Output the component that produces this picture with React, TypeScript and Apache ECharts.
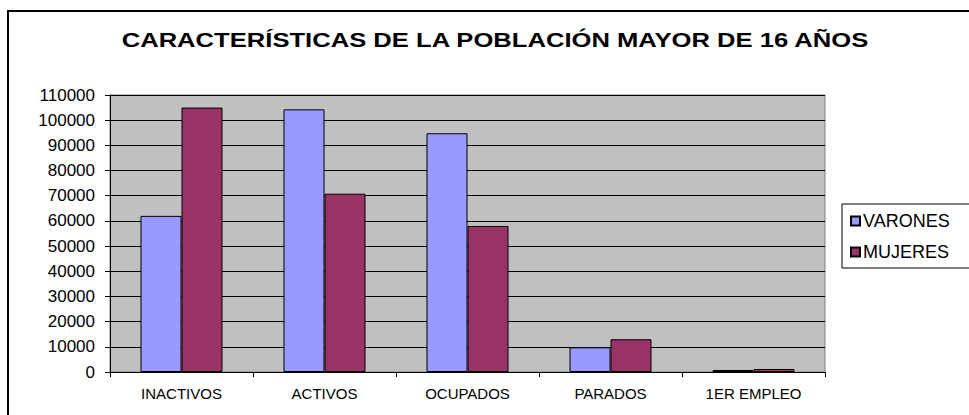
import React, { useEffect, useRef } from "react";
import * as echarts from "echarts";

const titleText = "CARACTERÍSTICAS DE LA POBLACIÓN MAYOR DE 16 AÑOS";
const categories = ["INACTIVOS", "ACTIVOS", "OCUPADOS", "PARADOS", "1ER EMPLEO"];
const seriesNames = ["VARONES", "MUJERES"];
const varones = [62000, 104300, 94800, 9800, 800];
const mujeres = [105000, 70800, 58000, 13000, 1200];
const yMin = 0;
const yMax = 110000;
const yInterval = 10000;

export default function App() {
  const ref = useRef<HTMLDivElement>(null);

  useEffect(() => {
    document.body.style.margin = "0";
    if (!ref.current) return;
    const chart = echarts.init(ref.current, undefined, { renderer: "svg" });
    const font = "'Liberation Sans', Arial, sans-serif";
    chart.setOption({
      animation: false,
      backgroundColor: "#ffffff",
      textStyle: { fontFamily: font, color: "#000" },
      graphic: [
        {
          type: "rect",
          shape: { x: 8, y: 11, width: 1000, height: 1000 },
          style: { fill: "none", stroke: "#000", lineWidth: 2 },
          silent: true,
          z: 100,
        },
        {
          type: "text",
          x: 495,
          y: 40,
          scaleX: 1.28,
          style: {
            text: titleText,
            fontFamily: font,
            fontWeight: "bold",
            fontSize: 20,
            fill: "#000",
            align: "center",
            verticalAlign: "middle",
          },
        },
      ],
      legend: {
        orient: "vertical",
        left: 842,
        top: 204,
        padding: [8, 60, 7, 8],
        itemGap: 13,
        itemWidth: 9,
        itemHeight: 9,
        borderColor: "#000",
        borderWidth: 1,
        icon: "rect",
        textStyle: { fontFamily: font, fontSize: 18, color: "#000", padding: [0, 0, 0, -2] },
        data: seriesNames,
      },
      grid: {
        left: 110,
        top: 95,
        width: 715,
        height: 277,
        show: true,
        backgroundColor: "#C0C0C0",
        borderColor: "#808080",
        borderWidth: 1,
      },
      xAxis: {
        type: "category",
        data: categories,
        axisLine: { lineStyle: { color: "#000", width: 1 } },
        axisTick: { show: true, length: 5, lineStyle: { color: "#000" } },
        axisLabel: { fontFamily: font, fontSize: 15, color: "#000", margin: 14 },
      },
      yAxis: {
        type: "value",
        min: yMin,
        max: yMax,
        interval: yInterval,
        axisLine: { show: true, lineStyle: { color: "#000", width: 1 } },
        axisTick: { show: true, length: 5, lineStyle: { color: "#000" } },
        axisLabel: {
          fontFamily: font,
          fontSize: 17,
          color: "#000",
          margin: 15,
          formatter: (v: number) => String(v),
        },
        splitLine: { show: true, lineStyle: { color: "#000", width: 1 } },
      },
      series: [
        {
          name: seriesNames[0],
          type: "bar",
          data: varones,
          barWidth: 41,
          barGap: "0%",
          itemStyle: { color: "#9999FF", borderColor: "#000", borderWidth: 1 },
        },
        {
          name: seriesNames[1],
          type: "bar",
          data: mujeres,
          barWidth: 41,
          barGap: "0%",
          itemStyle: { color: "#993366", borderColor: "#000", borderWidth: 1 },
        },
      ],
    });
    return () => chart.dispose();
  }, []);

  return <div ref={ref} style={{ width: 969, height: 415 }} />;
}
